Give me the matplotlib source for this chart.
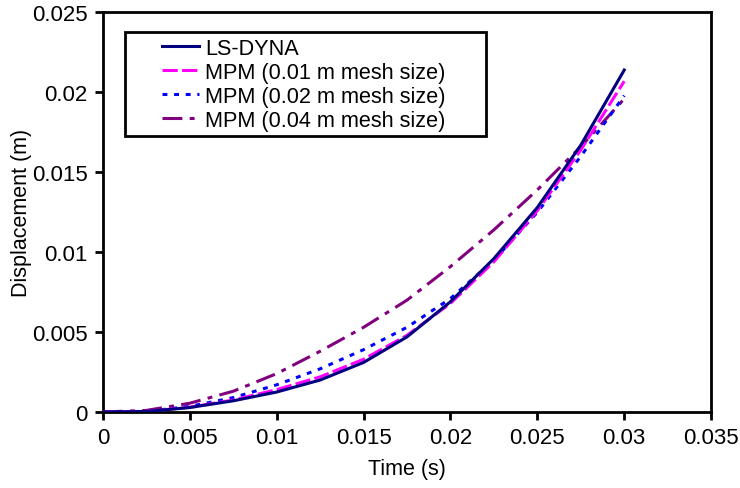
import matplotlib
matplotlib.use("Agg")
import matplotlib.pyplot as plt
from matplotlib.patches import Rectangle

# data
time_s = [0.0, 0.0025, 0.005, 0.0075, 0.01, 0.0125, 0.015, 0.0175,
          0.02, 0.0225, 0.025, 0.0275, 0.03]
ls_dyna = [0.0, 0.00003, 0.00028, 0.0007, 0.00125, 0.002, 0.0031, 0.0047,
           0.0069, 0.0096, 0.0128, 0.0167, 0.0214]
mpm_001 = [0.0, 0.00003, 0.0003, 0.00075, 0.0014, 0.0022, 0.0033, 0.0048,
           0.0068, 0.0094, 0.0126, 0.0164, 0.0207]
mpm_002 = [0.0, 0.00004, 0.00035, 0.0009, 0.0017, 0.0027, 0.0039, 0.0053,
           0.0071, 0.0095, 0.0125, 0.0160, 0.0198]
mpm_004 = [0.0, 0.0001, 0.00055, 0.0013, 0.0024, 0.0038, 0.0053, 0.0070,
           0.0091, 0.0114, 0.0139, 0.0166, 0.0196]
series_labels = ["LS-DYNA", "MPM (0.01 m mesh size)",
                 "MPM (0.02 m mesh size)", "MPM (0.04 m mesh size)"]
x_ticks = [0, 0.005, 0.01, 0.015, 0.02, 0.025, 0.03, 0.035]
x_tick_labels = ["0", "0.005", "0.01", "0.015", "0.02", "0.025", "0.03", "0.035"]
y_ticks = [0, 0.005, 0.01, 0.015, 0.02, 0.025]
y_tick_labels = ["0", "0.005", "0.01", "0.015", "0.02", "0.025"]

plt.rcParams["font.family"] = ["Liberation Sans", "DejaVu Sans"]
tick_fontsize = 16
label_fontsize = 15.5
legend_fontsize = 15.6
line_width = 2.2

fig = plt.figure(figsize=(7.4, 4.89), dpi=100, facecolor="white")
ax = fig.add_axes([0.139, 0.1554, 0.822, 0.817])

ax.plot(time_s, ls_dyna, color="#000080", linewidth=line_width,
        linestyle="-", label=series_labels[0], zorder=5)
ax.plot(time_s, mpm_001, color="#FF00FF", linewidth=line_width,
        linestyle=(0, (5, 1.4)), label=series_labels[1], zorder=4)
ax.plot(time_s, mpm_002, color="#0000FF", linewidth=line_width,
        linestyle=(0, (1.6, 2.2)), label=series_labels[2], zorder=3)
ax.plot(time_s, mpm_004, color="#800080", linewidth=line_width,
        linestyle=(0, (6.5, 2.4, 1.6, 2.4)), label=series_labels[3], zorder=2)

ax.set_xlim(0, 0.035)
ax.set_ylim(0, 0.025)
ax.set_xticks(x_ticks)
ax.set_xticklabels(x_tick_labels)
ax.set_yticks(y_ticks)
ax.set_yticklabels(y_tick_labels)
ax.tick_params(axis="both", direction="out", length=6, width=2,
               labelsize=tick_fontsize, pad=5)
for side in ["top", "right", "left", "bottom"]:
    ax.spines[side].set_linewidth(2)
    ax.spines[side].set_color("black")

ax.set_xlabel("Time (s)", fontsize=label_fontsize, labelpad=7)
ax.set_ylabel("Displacement (m)", fontsize=label_fontsize, labelpad=0)

# legend frame drawn separately, excel style box with wide side padding
frame = Rectangle((0.036, 0.692), 0.594, 0.258, transform=ax.transAxes,
                  facecolor="white", edgecolor="black", linewidth=2, zorder=10)
ax.add_patch(frame)
leg = ax.legend(loc="upper left", bbox_to_anchor=(0.097, 0.937),
                frameon=False, fontsize=legend_fontsize, handlelength=1.7,
                handletextpad=0.3, labelspacing=0.14, borderpad=0,
                borderaxespad=0)
leg.set_zorder(11)

plt.savefig("out.png", dpi=100)
plt.close()
